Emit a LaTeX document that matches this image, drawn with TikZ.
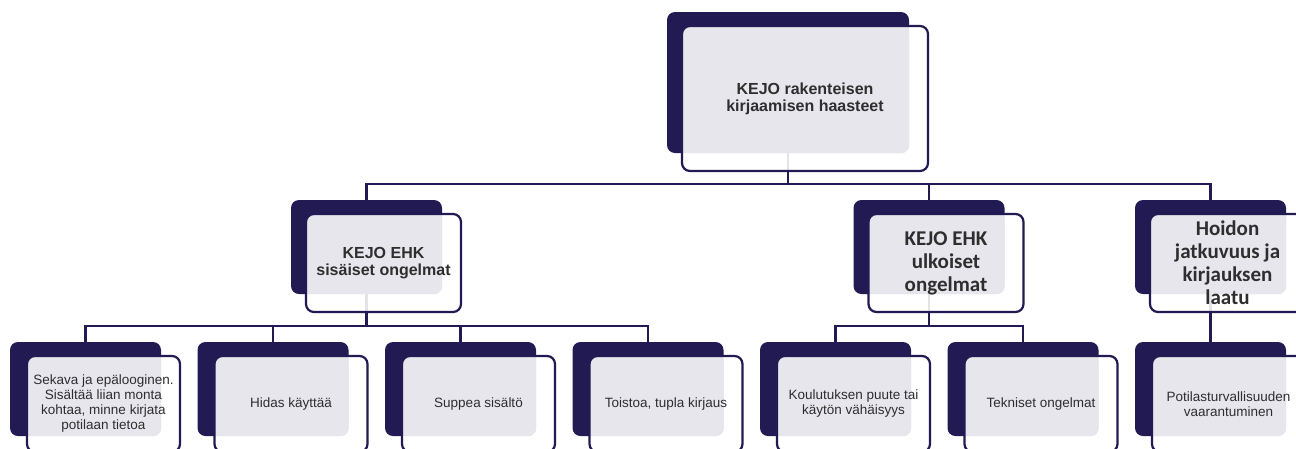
\documentclass[tikz,border=0pt]{standalone}
\usepackage{fontspec}
\setmainfont{Liberation Sans}
\newfontfamily\calibri{Carlito}
\usetikzlibrary{positioning, backgrounds}
\definecolor{navy}{HTML}{221A52}
\definecolor{paleg}{HTML}{E7E6ED}
\definecolor{txt}{HTML}{2E2E2E}

\begin{document}
\begin{tikzpicture}[x=1pt, y=-1pt,
  darkbox/.style={rectangle, rounded corners=8pt, fill=navy, inner sep=0pt,
                  minimum width=151pt, minimum height=94pt},
  facebox/.style={rectangle, rounded corners=8pt, draw=navy, line width=2.2pt,
                  fill=white, fill opacity=0.88, text opacity=1, inner sep=0pt,
                  minimum width=153pt, minimum height=96pt, align=center, text=txt,
                  font=\fontsize{13.5}{15}\selectfont,
                  path picture={\fill[paleg, fill opacity=1, rounded corners=8pt]
                    (path picture bounding box.north west) rectangle (#1.south east);}},
  headA/.style={font=\fontsize{16}{17.2}\selectfont\bfseries},
  headB/.style={font=\calibri\fontsize{21}{23}\selectfont\bfseries},
  link/.style={draw=navy, line width=2.4pt}
]
\useasboundingbox (0,0) rectangle (1296,448);
\clip (0,0) rectangle (1296,448);

% top
\node[darkbox, minimum width=242pt, minimum height=141pt] (top-b) at (788,82.5) {};
\node[facebox=top-b, headA, minimum width=246pt, minimum height=145pt, shift={(17,16)}] (top) at (top-b)
  {KEJO rakenteisen\\kirjaamisen haasteet};

% second row
\node[darkbox] (sis-b) at (366.5,247) {};
\node[facebox=sis-b, headA, minimum width=155pt, minimum height=98pt, shift={(17,16)}] (sis) at (sis-b)
  {KEJO EHK\\sisäiset ongelmat};
\node[darkbox] (ulk-b) at (929,247) {};
\node[facebox=ulk-b, headB, minimum width=155pt, minimum height=98pt, shift={(17,16)}] (ulk) at (ulk-b)
  {KEJO EHK\\ulkoiset\\ongelmat};
\node[darkbox] (hoi-b) at (1210.5,247) {};
\node[facebox=hoi-b, headB, minimum width=155pt, minimum height=98pt, shift={(17,16)}] (hoi) at (hoi-b)
  {Hoidon\\jatkuvuus ja\\kirjauksen\\laatu};

% leaves
\node[darkbox] (sek-b) at (85.5,389) {};
\node[facebox=sek-b, shift={(18,15)}] (sek) at (sek-b)
  {Sekava ja epälooginen.\\Sisältää liian monta\\kohtaa, minne kirjata\\potilaan tietoa};
\node[darkbox] (hid-b) at (273,389) {};
\node[facebox=hid-b, shift={(18,15)}] (hid) at (hid-b) {Hidas käyttää};
\node[darkbox] (sup-b) at (460.5,389) {};
\node[facebox=sup-b, shift={(18,15)}] (sup) at (sup-b) {Suppea sisältö};
\node[darkbox] (toi-b) at (648,389) {};
\node[facebox=toi-b, shift={(18,15)}] (toi) at (toi-b) {Toistoa, tupla kirjaus};
\node[darkbox] (kou-b) at (835.5,389) {};
\node[facebox=kou-b, shift={(18,15)}] (kou) at (kou-b) {Koulutuksen puute tai\\käytön vähäisyys};
\node[darkbox] (tek-b) at (1023,389) {};
\node[facebox=tek-b, shift={(18,15)}] (tek) at (tek-b) {Tekniset ongelmat};
\node[darkbox] (pot-b) at (1210.5,389) {};
\node[facebox=pot-b, shift={(18,15)}] (pot) at (pot-b) {Potilasturvallisuuden\\vaarantuminen};

\begin{scope}[on background layer]
\draw[link] (top-b.south) -- ++(0,31) -| (sis-b.north);
\draw[link] (top-b.south) -- ++(0,31) -| (ulk-b.north);
\draw[link] (top-b.south) -- ++(0,31) -| (hoi-b.north);
\draw[link] (sis-b.south) -- ++(0,32) -| (sek-b.north);
\draw[link] (sis-b.south) -- ++(0,32) -| (hid-b.north);
\draw[link] (sis-b.south) -- ++(0,32) -| (sup-b.north);
\draw[link] (sis-b.south) -- ++(0,32) -| (toi-b.north);
\draw[link] (ulk-b.south) -- ++(0,32) -| (kou-b.north);
\draw[link] (ulk-b.south) -- ++(0,32) -| (tek-b.north);
\draw[link] (hoi-b.south) -- (pot-b.north);
\end{scope}
\end{tikzpicture}
\end{document}
